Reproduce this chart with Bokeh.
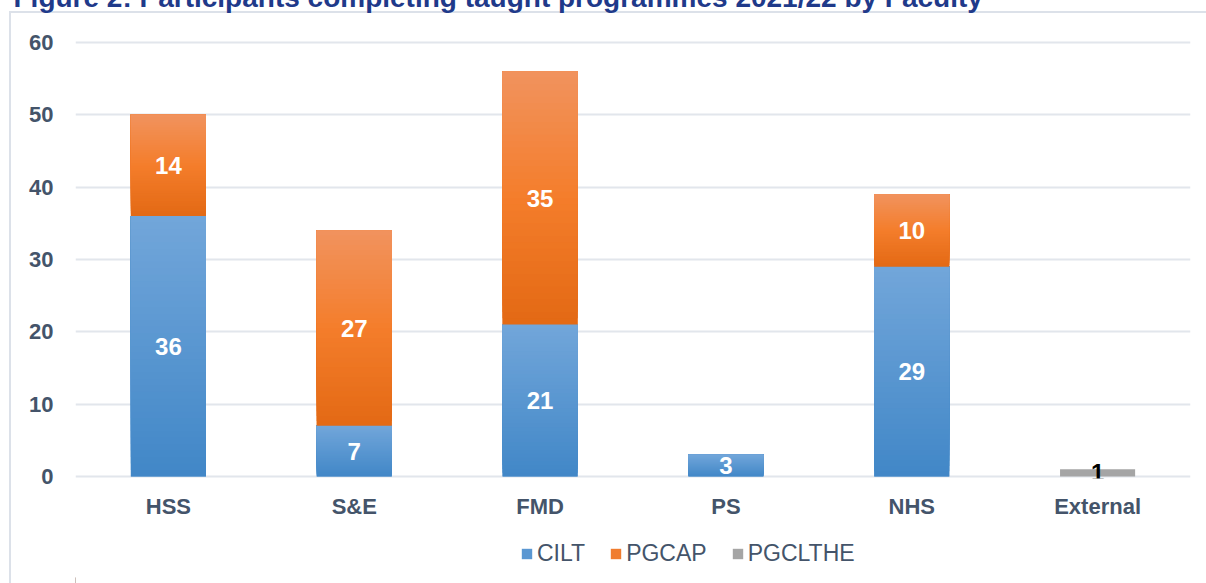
import numpy as np
from bokeh.plotting import figure
from bokeh.layouts import column
from bokeh.models import (Range1d, FactorRange, Legend, LegendItem, FixedTicker)
from bokeh.core.properties import value
from bokeh.embed import file_html
from bokeh.resources import INLINE

# ---------------- data ----------------
categories = ["HSS", "S&E", "FMD", "PS", "NHS", "External"]
cilt = [36, 7, 21, 3, 29, 0]
pgcap = [14, 27, 35, 0, 10, 0]
pgclthe = [0, 0, 0, 0, 0, 1]
series_names = ["CILT", "PGCAP", "PGCLTHE"]
y_ticks = [0, 10, 20, 30, 40, 50, 60]
title_text = "Figure 2: Participants completing taught programmes 2021/22 by Faculty"

# ---------------- style ----------------
FONT = "Liberation Sans"
AXIS_COLOR = "#44546A"
BLUE_STOPS = [(0.0, (0x72, 0xA6, 0xDA)), (1.0, (0x41, 0x87, 0xC7))]
ORANGE_STOPS = [(0.0, (0xF1, 0x93, 0x5E)), (0.5, (0xF4, 0x7D, 0x2B)), (1.0, (0xE3, 0x69, 0x14))]
SERIES_COLORS = ["#5A97D2", "#F07C2E", "#A5A5A5"]
BORDER = "#DCE1E9"
BAR_W = 0.404
N_SLICES = 40

SHIFT = 20            # layout starts above the window so the caption is cut like the source
W = 1206
LEGEND_H = 60

# ================= main chart =================
p = figure(x_range=FactorRange(*categories, range_padding=0),
           y_range=Range1d(-0.2765, 64.424),
           frame_width=1115, frame_height=468,
           output_backend="svg", toolbar_location=None,
           min_border_left=75, min_border_right=16, min_border_top=30,
           min_border_bottom=45)
p.background_fill_color = None
p.border_fill_color = None
p.outline_line_color = None

# caption (document text above the chart, mostly outside the window)
p.title.text = title_text
p.title.align = "left"
p.title.offset = -62
p.title.vertical_align = "bottom"
p.title.standoff = -4.8
p.title.text_font = FONT
p.title.text_font_style = "bold"
p.title.text_font_size = "28px"
p.title.text_color = "#1F3A8A"
p.title.text_line_height = 1.0


def color_at(stops, tt):
    for (t0, c0), (t1, c1) in zip(stops[:-1], stops[1:]):
        if t0 <= tt <= t1:
            f = (tt - t0) / (t1 - t0) if t1 > t0 else 0
            rgb = [round(a + (b - a) * f) for a, b in zip(c0, c1)]
            return "#%02x%02x%02x" % tuple(rgb)
    return "#%02x%02x%02x" % stops[-1][1]


cilt_bottom = [0] * len(categories)
cilt_top = [b + v for b, v in zip(cilt_bottom, cilt)]
pgcap_bottom = cilt_top
pgcap_top = [b + v for b, v in zip(pgcap_bottom, pgcap)]
pgclthe_bottom = pgcap_top
pgclthe_top = [b + v for b, v in zip(pgclthe_bottom, pgclthe)]

p.vbar(x=categories, bottom=cilt_bottom, top=cilt_top, width=BAR_W,
       fill_color=SERIES_COLORS[0], line_color=None)
p.vbar(x=categories, bottom=pgcap_bottom, top=pgcap_top, width=BAR_W,
       fill_color=SERIES_COLORS[1], line_color=None)
p.vbar(x=categories, bottom=pgclthe_bottom, top=pgclthe_top, width=BAR_W,
       fill_color=SERIES_COLORS[2], line_color=None)

# gradient overlay slices (light at the top of each segment, darker at the base)
for vals, bots, tops, stops in [(cilt, cilt_bottom, cilt_top, BLUE_STOPS),
                                (pgcap, pgcap_bottom, pgcap_top, ORANGE_STOPS)]:
    xs, sb, st, cols = [], [], [], []
    for cat, v, b, tp in zip(categories, vals, bots, tops):
        if v <= 0:
            continue
        for k in range(N_SLICES):
            xs.append(cat)
            sb.append(b + (tp - b) * k / N_SLICES)
            st.append(tp)
            cols.append(color_at(stops, 1 - (k + 0.5) / N_SLICES))
    p.vbar(x=xs, bottom=sb, top=st, width=BAR_W, fill_color=cols, line_color=None)

# data labels
lx, ly, lt = [], [], []
for vals, bots in [(cilt, cilt_bottom), (pgcap, pgcap_bottom)]:
    for cat, v, b in zip(categories, vals, bots):
        if v > 0:
            lx.append(cat)
            ly.append(b + v / 2)
            lt.append(str(v))
p.text(x=lx, y=ly, text=lt, text_color="white", text_font=value(FONT),
       text_font_style="bold", text_font_size="24px", text_align="center",
       text_baseline="middle")
gx, gy, gt = [], [], []
for cat, v, b in zip(categories, pgclthe, pgclthe_bottom):
    if v > 0:
        gx.append(cat)
        gy.append(b + v / 2)
        gt.append(str(v))
p.text(x=gx, y=gy, text=gt, text_color="black", text_font=value(FONT),
       text_font_style="bold", text_font_size="24px", text_align="center",
       text_baseline="middle")

# axes
for ax in (p.xaxis[0], p.yaxis[0]):
    ax.axis_line_color = None
    ax.major_tick_line_color = None
    ax.minor_tick_line_color = None
    ax.major_tick_out = 0
    ax.major_label_text_font = FONT
    ax.major_label_text_font_style = "bold"
    ax.major_label_text_font_size = "22px"
    ax.major_label_text_color = AXIS_COLOR
p.yaxis.ticker = FixedTicker(ticks=y_ticks)
p.yaxis.major_label_standoff = 22
p.xaxis.major_label_standoff = 15

p.xgrid.grid_line_color = None
p.ygrid.ticker = FixedTicker(ticks=y_ticks)
p.ygrid.grid_line_color = "#E2E6EC"
p.ygrid.grid_line_width = 2

# ================= legend strip under the chart =================
lg = figure(width=W, height=LEGEND_H, x_range=Range1d(0, 10), y_range=Range1d(0, 10),
            output_backend="svg", toolbar_location=None, x_axis_type=None,
            y_axis_type=None, min_border=0)
lg.grid.visible = False
lg.outline_line_color = None
lg.background_fill_color = None
lg.border_fill_color = None

# legend proxies: one swatch per series, kept outside the visible range
proxies = [lg.vbar(x=[-5], bottom=[0], top=[1], width=1, fill_color=c, line_color=None)
           for c in SERIES_COLORS]
legend = Legend(items=[LegendItem(label=n, renderers=[r]) for n, r in zip(series_names, proxies)],
                orientation="horizontal", location=(445, 16),
                glyph_width=13, glyph_height=13, label_standoff=4, spacing=24,
                padding=0, margin=0, border_line_color=None,
                background_fill_alpha=0, label_text_font=FONT,
                label_text_font_size="23px", label_text_color=AXIS_COLOR)
lg.add_layout(legend)

layout = column(p, lg, spacing=0)
layout.styles = {
    "margin-top": "-%dpx" % SHIFT,
    "background": ("linear-gradient(%s, %s) 9px %dpx / 2px 100%% no-repeat, "
                   "linear-gradient(%s, %s) 9px %dpx / 100%% 2px no-repeat, #ffffff")
                  % (BORDER, BORDER, 11 + SHIFT, BORDER, BORDER, 11 + SHIFT),
}

open("out.html", "w").write(file_html(layout, INLINE))
